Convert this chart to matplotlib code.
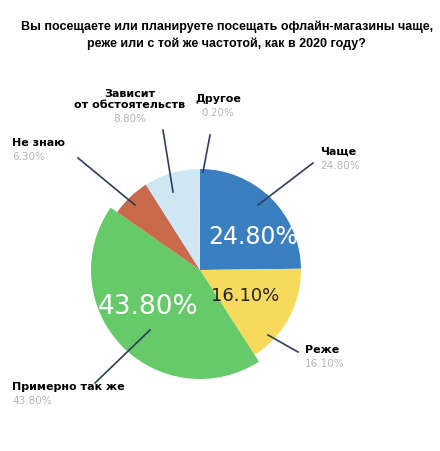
import matplotlib.pyplot as plt

labels = ['Чаще', 'Реже', 'Примерно так же', 'Не знаю', 'Зависит\nот обстоятельств', 'Другое']
values = [24.8, 16.1, 43.8, 6.3, 8.8, 0.2]
colors = ['#3a80c0', '#f7da5c', '#66c96a', '#c96a4c', '#cfe7f3', '#cfe7f3']
# label positions (pixels), leader line start/end
label_xy = [(320, 157), (305, 355), (12, 392), (12, 148), (130, 110), (218, 104)]
line_pts = [((258, 205), (313, 163)), ((268, 335), (298, 352)),
            ((150, 330), (95, 383)), ((135, 205), (78, 158)),
            ((173, 192), (163, 130)), ((203, 172), (210, 135))]

fig = plt.figure(figsize=(4.4, 4.51), dpi=100)
ax = fig.add_axes([0, 0, 1, 1])

H = 451
wedges, _ = ax.pie(values, colors=colors, startangle=90, counterclock=False,
                   center=(200, H - 270), radius=101, frame=True)
wedges[2].set_radius(109)
ax.set_xlim(0, 440)
ax.set_ylim(0, 451)
ax.set_aspect('equal')
ax.axis('off')

ax.text(253, H - 237, '24.80%', color='white', fontsize=17, ha='center', va='center')
ax.text(245, H - 296, '16.10%', color='#222222', fontsize=13, ha='center', va='center')
ax.text(148, H - 307, '43.80%', color='white', fontsize=19, ha='center', va='center')

for lab, val, (x, y), (p0, p1) in zip(labels, values, label_xy, line_pts):
    ax.plot([p0[0], p1[0]], [H - p0[1], H - p1[1]], color='#2c3e5c', lw=1.2)
    ha = 'center' if '\n' in lab or lab == 'Другое' else 'left'
    ax.text(x, H - y, lab, fontsize=8, fontweight='bold', ha=ha, va='bottom',
            linespacing=1.1)
    ax.text(x, H - y - 4, f'{val:.2f}%', fontsize=7.5, color='#b5b5b5', ha=ha, va='top')

fig.text(0.515, 0.955, 'Вы посещаете или планируете посещать офлайн-магазины чаще,\n'
         'реже или с той же частотой, как в 2020 году?',
         ha='center', va='top', fontsize=9, fontweight='bold',
         family='Liberation Sans', linespacing=1.5)

fig.savefig('out.png', dpi=100)
